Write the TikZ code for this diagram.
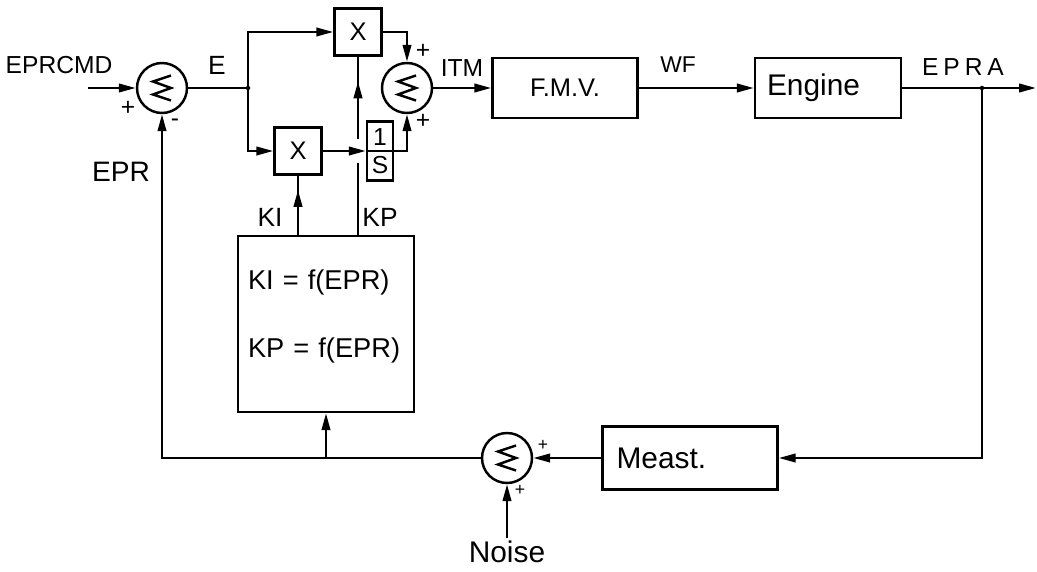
\documentclass[tikz,border=0pt]{standalone}
\usepackage{fontspec}
\setmainfont{Liberation Sans}
\usetikzlibrary{arrows.meta,decorations.markings}

\tikzset{
  sz/.style={font=\fontsize{#1}{#1}\selectfont},
  box/.style={draw,rectangle,inner sep=0pt},
  sumnode/.style={draw,circle,minimum size=1cm,inner sep=0pt,
    path picture={\draw ([shift={(0.18cm,0.25cm)}]path picture bounding box.center)
      -- ++(-0.36cm,-0.12cm) -- ++(0.36cm,-0.13cm) -- ++(-0.36cm,-0.13cm) -- ++(0.36cm,-0.12cm);}},
  arrowat/.style={postaction={decorate},
    decoration={markings,mark=at position #1 with {\arrow{Triangle[length=0.34cm,width=0.17cm]}}}}
}

\begin{document}
\begin{tikzpicture}[x=0.02cm,y=-0.02cm,line width=1.4pt,>={Triangle[length=0.34cm,width=0.17cm]}]
 \useasboundingbox (0,0) rectangle (1037,571);
 % blocks
 \node[sumnode] (sum1) at (162,88) {};
 \node[box,minimum size=0.94cm,sz=14.5] (x1) at (358,32) {X};
 \node[box,minimum size=0.94cm,sz=14.5] (x2) at (298,151) {X};
 \node[box,minimum width=0.52cm,minimum height=1.18cm,align=center,font=\fontsize{14}{16}\selectfont] (integ) at (380,151) {1\\S};
 \node[sumnode] (sum2) at (407,88) {};
 \node[box,minimum width=2.9cm,minimum height=1.2cm,sz=14.5] (fmv) at (565,88) {F.M.V.};
 \node[box,minimum width=2.92cm,minimum height=1.2cm,inner xsep=0.24cm,text width=2.44cm,align=left,sz=17] (engine) at (828,88) {Engine};
 \node[box,minimum width=3.52cm,minimum height=3.52cm,inner xsep=0.2cm,text width=3.12cm,align=left,font=\fontsize{15.5}{38.7}\selectfont] (gain) at (326,324) {KI = f(EPR)\\KP = f(EPR)\\[-27pt]\mbox{}};
 \node[box,minimum width=3.5cm,minimum height=1.26cm,inner xsep=0.28cm,text width=2.94cm,align=left,sz=17] (meast) at (690,458) {Meast.};
 \node[sumnode] (sum3) at (507,458) {};
 \node[sz=17,inner sep=1pt] (noise) at (507,552) {Noise};

 % labels
 \node[sz=14] (cmdlbl) at (59,65) {EPRCMD};
 \node[sz=14] (p1) at (128,108) {+};
 \node[sz=14] (m1) at (175,123) {-};
 \node[sz=15] (elbl) at (217,65) {E};
 \node[sz=16] (eprlbl) at (121,172) {EPR};
 \node[sz=14] (itmlbl) at (462,68) {ITM};
 \node[sz=14] (p2a) at (423,51) {+};
 \node[sz=14] (p2b) at (423,121) {+};
 \node[sz=13] (wflbl) at (678,65) {WF};
 \node[font={\fontsize{14}{14}\selectfont\addfontfeatures{LetterSpace=20}}] (epralbl) at (963,67) {EPRA};
 \node[sz=15] (kilbl) at (270,217) {KI};
 \node[sz=15] (kplbl) at (380,217) {KP};
 \node[sz=10] (p3a) at (543,445) {+};
 \node[sz=10] (p3b) at (520,490) {+};

 \coordinate (cmdin) at (88,88);
 \coordinate (brE) at (248,88);
 \coordinate (brA) at (982,88);
 \coordinate (out) at (1036,88);
 \coordinate (kplo) at (358,163);
 \coordinate (kphi) at (358,139);

 % signal lines
 \draw[->] (cmdin) -- (sum1);
 \draw (sum1) -- (brE);
 \fill (brE) circle[radius=0.045cm];
 \draw[->] (brE) |- (x1);
 \draw[->] (brE) |- (x2);
 \draw[->] (x1) -| (sum2);
 \draw[->] (x2) -- (integ.west);
 \draw[->] (integ.west) -- (integ.east) -| (sum2);
 \draw (gain.north -| kplo) -- (kplo);
 \draw[arrowat=0.7] (kphi) -- (x1);
 \draw[arrowat=0.76] (gain.north -| x2) -- (x2);
 \draw[->] (sum2) -- (fmv);
 \draw[->] (fmv) -- (engine);
 \draw[->] (engine) -- (out);
 \fill (brA) circle[radius=0.045cm];
 \draw[->] (brA) |- (meast);
 \draw[->] (meast) -- (sum3);
 \draw[->] (sum3) -| (sum1);
 \draw[->] (sum3 -| gain) -- (gain);
 \draw[->] (noise) -- (sum3);
\end{tikzpicture}
\end{document}
